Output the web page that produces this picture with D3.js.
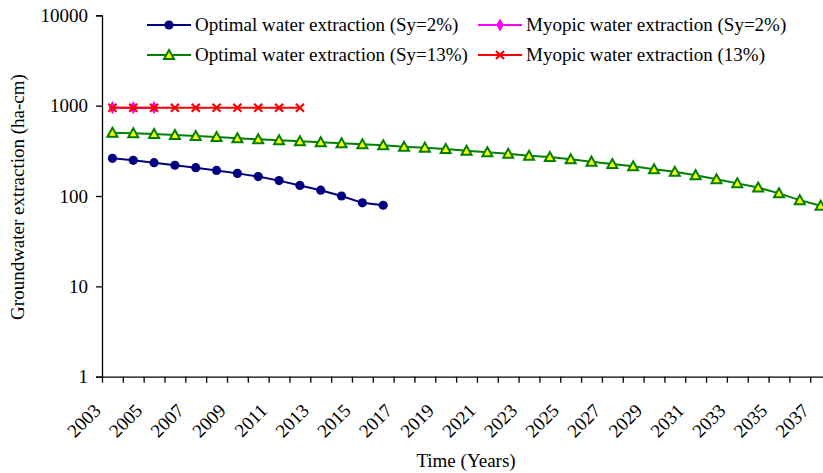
<!DOCTYPE html>
<html>
<head>
<meta charset="utf-8">
<script src="https://cdn.jsdelivr.net/npm/d3@7"></script>
<style>
  body { margin: 0; background: #fff; }
</style>
</head>
<body>
<div id="chart"></div>
<script>
// years on the category axis (2003..2037)
const years = d3.range(2003, 2038);

// series values (ha-cm)
const optimalSy2 = [261, 248, 234, 219, 206, 192, 178, 164, 148, 131, 116, 100, 84, 79];
const myopicSy2 = [950, 950, 950];
const optimalSy13 = [502, 494, 486, 473, 462, 450, 435, 424, 413, 403, 393, 383, 373, 364,
  351, 343, 331, 317, 305, 294, 279, 270, 255, 240, 226, 213, 198, 185, 170, 153, 138, 124, 107, 90, 78];
const myopic13 = [950, 950, 950, 950, 950, 950, 950, 950, 950, 950];

const yTicks = [1, 10, 100, 1000, 10000];

const width = 823, height = 473;
const plotLeft = 102, plotTop = 15.3, plotBottom = 376.7;
const step = 20.83; // width of one category
const fontFam = "'Liberation Serif', 'Times New Roman', serif";
const fontSize = 19;

const svg = d3.select("#chart").append("svg")
  .attr("width", width)
  .attr("height", height)
  .style("display", "block");

// x is a category index scale, ticks on the boundaries, points in the middle
const x = d3.scaleLinear().domain([0, years.length]).range([plotLeft, plotLeft + years.length * step]);
const y = d3.scaleLog().domain([1, 10000]).range([plotBottom, plotTop]);

//y axis
const yAxis = svg.append("g")
  .attr("transform", `translate(${plotLeft},0)`)
  .call(d3.axisLeft(y).tickValues(yTicks).tickFormat(d3.format("d")).tickSize(6).tickPadding(8));
yAxis.select(".domain").attr("stroke", "#000").attr("stroke-width", 1.3);
yAxis.selectAll(".tick line").attr("stroke", "#000").attr("stroke-width", 1.3);
yAxis.selectAll("text").style("font-family", fontFam).style("font-size", fontSize + "px").attr("fill", "#000");

//x axis ticks (category boundaries)
const xAxis = svg.append("g")
  .attr("transform", `translate(0,${plotBottom})`)
  .call(d3.axisBottom(x).tickValues(d3.range(0, years.length + 1)).tickFormat("").tickSize(6).tickSizeOuter(0));
xAxis.select(".domain").attr("stroke", "#000").attr("stroke-width", 1.3);
xAxis.selectAll(".tick line").attr("stroke", "#000").attr("stroke-width", 1.3);

// x labels, every other year, rotated
svg.append("g").selectAll("text")
  .data(years.filter((yr, i) => i % 2 === 0))
  .join("text")
  .attr("transform", yr => `translate(${x(years.indexOf(yr) + 0.5) - 10.5},${plotBottom + 35}) rotate(-45)`)
  .attr("text-anchor", "end")
  .style("font-family", fontFam)
  .style("font-size", fontSize + "px")
  .attr("fill", "#000")
  .text(yr => yr);

// axis titles
svg.append("text")
  .attr("x", 466).attr("y", 467)
  .attr("text-anchor", "middle")
  .style("font-family", fontFam)
  .style("font-size", fontSize + "px")
  .text("Time (Years)");

svg.append("text")
  .attr("transform", "translate(24,197) rotate(-90)")
  .attr("text-anchor", "middle")
  .style("font-family", fontFam)
  .style("font-size", fontSize + "px")
  .text("Groundwater extraction (ha-cm)");

const line = d3.line()
  .x((d, i) => x(i + 0.5))
  .y(d => y(d));

const series = [
  {name: "Optimal water extraction (Sy=2%)", values: optimalSy2, color: "#000080", marker: "circle"},
  {name: "Myopic water extraction (Sy=2%)", values: myopicSy2, color: "#ff00ff", marker: "diamond"},
  {name: "Optimal water extraction (Sy=13%)", values: optimalSy13, color: "#008000", marker: "triangle"},
  {name: "Myopic water extraction (13%)", values: myopic13, color: "#ff0000", marker: "cross"}
];

const drawMarker = (g, s, cx, cy) => {
  if (s.marker === "circle") {
    g.append("circle").attr("cx", cx).attr("cy", cy).attr("r", 4.6).attr("fill", s.color);
  } else if (s.marker === "diamond") {
    g.append("path").attr("d", d3.symbol(d3.symbolDiamond, 50)()).attr("transform", `translate(${cx},${cy})`).attr("fill", s.color);
  } else if (s.marker === "triangle") {
    g.append("path").attr("d", `M0,-5L5,4L-5,4Z`).attr("transform", `translate(${cx},${cy})`)
      .attr("fill", "#ffff00").attr("stroke", s.color).attr("stroke-width", 2).attr("stroke-linejoin", "miter");
  } else {
    g.append("path").attr("d", "M-4,-4L4,4M-4,4L4,-4").attr("transform", `translate(${cx},${cy})`)
      .attr("stroke", s.color).attr("stroke-width", 2.2).attr("fill", "none");
  }
};

series.forEach(s => {
  const g = svg.append("g");
  g.append("path")
    .datum(s.values)
    .attr("d", line)
    .attr("fill", "none")
    .attr("stroke", s.color)
    .attr("stroke-width", 2);
  s.values.forEach((v, i) => drawMarker(g, s, x(i + 0.5), y(v)));
});

// legend
const legendPos = [[147, 25], [478, 25], [147, 55], [478, 55]];
series.forEach((s, i) => {
  const [lx, ly] = legendPos[i];
  const g = svg.append("g");
  g.append("line").attr("x1", lx).attr("x2", lx + 44).attr("y1", ly).attr("y2", ly)
    .attr("stroke", s.color).attr("stroke-width", 2);
  drawMarker(g, s, lx + 22, ly);
  g.append("text").attr("x", lx + 48).attr("y", ly).attr("dy", "0.33em")
    .style("font-family", fontFam).style("font-size", fontSize + "px")
    .attr("fill", "#000").text(s.name);
});
</script>
</body>
</html>
